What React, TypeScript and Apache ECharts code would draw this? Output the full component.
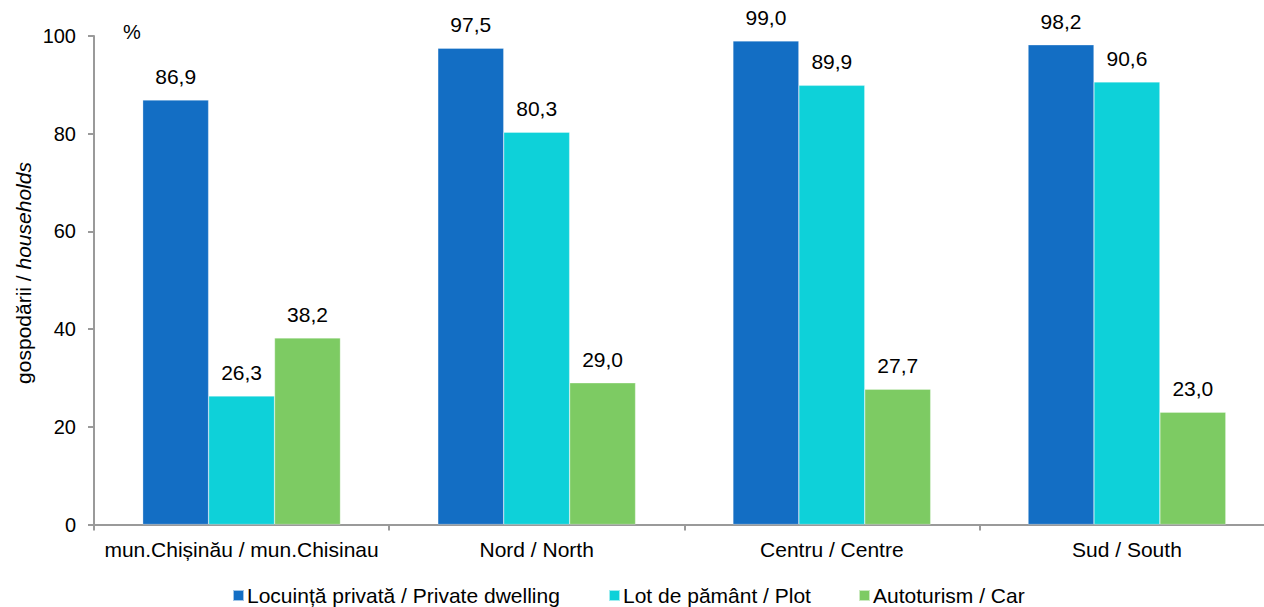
import React, { useEffect, useRef } from "react";
import * as echarts from "echarts";

const categories = [
  "mun.Chișinău / mun.Chisinau",
  "Nord / North",
  "Centru / Centre",
  "Sud / South",
];
const seriesNames = [
  "Locuință privată / Private dwelling",
  "Lot de pământ / Plot",
  "Autoturism / Car",
];
const dwelling = [86.9, 97.5, 99.0, 98.2];
const plot = [26.3, 80.3, 89.9, 90.6];
const car = [38.2, 29.0, 27.7, 23.0];
const colors = ["#136EC4", "#0ED1D9", "#7DCB63"];
const yTicks = { min: 0, max: 100, interval: 20 };

const FONT = "'Liberation Sans', Arial, sans-serif";
const AXIS_GRAY = "#9a9a9a";

export default function App() {
  const ref = useRef<HTMLDivElement>(null);
  useEffect(() => {
    if (!ref.current) return;
    const chart = echarts.init(ref.current, undefined, { renderer: "svg" });
    const mk = (name: string, data: number[], color: string) => ({
      name,
      type: "bar",
      data,
      barGap: "0%",
      barCategoryGap: "33%",
      itemStyle: { color, borderColor: "rgba(255,255,255,0.6)", borderWidth: 0.5 },
      label: {
        show: true,
        position: "top",
        distance: 13,
        fontFamily: FONT,
        fontSize: 21,
        color: "#000",
        formatter: (p: any) => Number(p.value).toFixed(1).replace(".", ","),
      },
    });
    const legendLefts = [227, 603, 853];
    chart.setOption({
      animation: false,
      textStyle: { fontFamily: FONT },
      grid: { left: 94, top: 36, bottom: 82.5, right: 25.5, containLabel: false },
      legend: seriesNames.map((n, i) => ({
        left: legendLefts[i],
        top: 580,
        padding: 5,
        itemWidth: 11,
        itemHeight: 11,
        icon: "rect",
        textStyle: { fontFamily: FONT, fontSize: 21, color: "#000", padding: [0, 0, 0, -2] },
        data: [n],
      })),
      xAxis: {
        type: "category",
        data: categories,
        axisLine: { lineStyle: { color: AXIS_GRAY, width: 2 } },
        axisTick: { show: true, interval: 0, length: 6, lineStyle: { color: AXIS_GRAY, width: 2 } },
        axisLabel: { interval: 0, fontFamily: FONT, fontSize: 21, color: "#000", margin: 14 },
      },
      yAxis: {
        type: "value",
        min: yTicks.min,
        max: yTicks.max,
        interval: yTicks.interval,
        splitLine: { show: false },
        axisLine: { show: true, lineStyle: { color: AXIS_GRAY, width: 2 } },
        axisTick: { show: true, length: 6, lineStyle: { color: AXIS_GRAY, width: 2 } },
        axisLabel: { fontFamily: FONT, fontSize: 20, color: "#000", margin: 18 },
      },
      graphic: [
        {
          type: "text",
          x: 132,
          y: 32,
          style: {
            text: "%",
            font: `20px ${FONT}`,
            fill: "#000",
            align: "center",
            verticalAlign: "middle",
          },
        },
        {
          type: "text",
          x: 23,
          y: 273,
          rotation: Math.PI / 2,
          style: {
            text: "{n|gospodării / }{i|households}",
            align: "center",
            verticalAlign: "middle",
            fill: "#000",
            rich: {
              n: { fontFamily: FONT, fontSize: 21, color: "#000" },
              i: { fontFamily: FONT, fontSize: 21, color: "#000", fontStyle: "italic" },
            },
          },
        },
      ],
      series: [
        mk(seriesNames[0], dwelling, colors[0]),
        mk(seriesNames[1], plot, colors[1]),
        mk(seriesNames[2], car, colors[2]),
      ],
    });
    return () => chart.dispose();
  }, []);
  return (
    <div
      style={{
        position: "fixed",
        left: 0,
        top: 0,
        width: 1264,
        height: 607,
        overflow: "hidden",
        background: "#fff",
      }}
    >
      <div ref={ref} style={{ width: 1300, height: 607 }} />
    </div>
  );
}
